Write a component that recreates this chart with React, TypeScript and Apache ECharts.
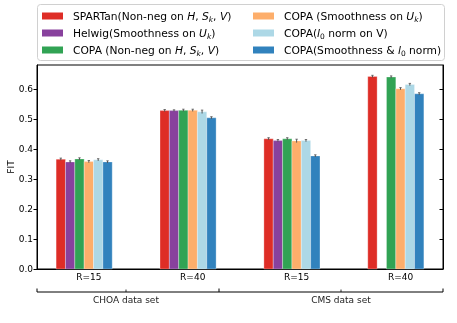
import React, { useEffect, useRef } from "react";
import * as echarts from "echarts";

const groups = ["R=15", "R=40", "R=15", "R=40"];
const datasets = ["CHOA data set", "CMS data set"];
const yTicks = [0, 0.1, 0.2, 0.3, 0.4, 0.5, 0.6];
const yTitle = "FIT";

const seriesNames = [
  "SPARTan(Non-neg on H, Sk, V)",
  "Helwig(Smoothness on Uk)",
  "COPA (Non-neg on H, Sk, V)",
  "COPA (Smoothness on Uk)",
  "COPA(l0 norm on V)",
  "COPA(Smoothness & l0 norm)",
];
const seriesRich = [
  "SPARTan(Non-neg on {i|H}, {i|S}{s|k}, {i|V})",
  "Helwig(Smoothness on {i|U}{s|k})",
  "COPA (Non-neg on {i|H}, {i|S}{s|k}, {i|V})",
  "COPA (Smoothness on {i|U}{s|k})",
  "COPA({i|l}{n|0} norm on V)",
  "COPA(Smoothness & {i|l}{n|0} norm)",
];
const colors = ["#de2d26", "#88419d", "#31a354", "#fdae6b", "#add8e6", "#3182bd"];

const spartan = [0.366, 0.528, 0.434, 0.642];
const helwig = [0.357, 0.528, 0.428, null];
const copaNonneg = [0.367, 0.529, 0.434, 0.640];
const copaSmooth = [0.358, 0.529, 0.427, 0.601];
const copaL0 = [0.364, 0.524, 0.428, 0.615];
const copaBoth = [0.357, 0.504, 0.377, 0.584];

const spartanErr = [0.002, 0.002, 0.002, 0.002];
const helwigErr = [0.002, 0.001, 0.002, null];
const copaNonnegErr = [0.002, 0.002, 0.002, 0.002];
const copaSmoothErr = [0.002, 0.002, 0.004, 0.002];
const copaL0Err = [0.002, 0.004, 0.002, 0.002];
const copaBothErr = [0.002, 0.002, 0.002, 0.002];

const allValues = [spartan, helwig, copaNonneg, copaSmooth, copaL0, copaBoth];
const allErrs = [spartanErr, helwigErr, copaNonnegErr, copaSmoothErr, copaL0Err, copaBothErr];

const BW = 0.09; // bar width in group units
const TICK_OFF = BW / 2;
const FONT = "DejaVu Sans";
const LEGEND_FS = 10.7;

export default function App() {
  const ref = useRef<HTMLDivElement>(null);
  useEffect(() => {
    if (!ref.current) return;
    const chart = echarts.init(ref.current, undefined, { renderer: "svg" });
    const tickPos = groups.map((_, g) => g + TICK_OFF);

    const series = allValues.map((vals, s) => ({
      type: "custom",
      name: seriesNames[s],
      itemStyle: { color: colors[s] },
      data: vals
        .map((v, g) => (v == null ? null : [g, v, allErrs[s][g] as number]))
        .filter((d) => d != null),
      renderItem: (params: any, api: any) => {
        const si = params.seriesIndex;
        const g = api.value(0);
        const v = api.value(1);
        const e = api.value(2);
        const xc = g + (si - 2.5) * BW;
        const p0 = api.coord([xc - BW / 2, v]);
        const p1 = api.coord([xc + BW / 2, 0]);
        const top = api.coord([xc, v + e]);
        const bot = api.coord([xc, v - e]);
        const cx = (p0[0] + p1[0]) / 2;
        return {
          type: "group",
          children: [
            {
              type: "rect",
              shape: { x: p0[0], y: p0[1], width: p1[0] - p0[0], height: p1[1] - p0[1] },
              style: { fill: colors[si], stroke: "rgba(255,255,255,0.5)", lineWidth: 0.6 },
            },
            {
              type: "line",
              shape: { x1: cx, y1: top[1] - 0.5, x2: cx, y2: bot[1] + 0.5 },
              style: { stroke: "#555", lineWidth: 1 },
            },
            {
              type: "line",
              shape: { x1: cx - 1.2, y1: top[1] - 0.5, x2: cx + 1.2, y2: top[1] - 0.5 },
              style: { stroke: "#555", lineWidth: 0.8 },
            },
          ],
        };
      },
    }));

    const rich = {
      i: { fontStyle: "italic", fontSize: LEGEND_FS, fontFamily: FONT, color: "#000", lineHeight: 14 },
      s: { fontStyle: "italic", fontSize: 7.5, fontFamily: FONT, color: "#000", lineHeight: 8, verticalAlign: "bottom" },
      n: { fontSize: 7.5, fontFamily: FONT, color: "#000", lineHeight: 8, verticalAlign: "bottom" },
    };
    const legendCommon = {
      orient: "vertical",
      icon: "rect",
      itemWidth: 21,
      itemHeight: 7,
      itemGap: 3,
      padding: 0,
      top: 9,
      selectedMode: false,
      formatter: (name: string) => seriesRich[seriesNames.indexOf(name)],
      textStyle: {
        fontSize: LEGEND_FS,
        fontFamily: FONT,
        color: "#000",
        lineHeight: 14,
        padding: [0, 0, 0, 5],
        rich,
      },
    };

    const bracketY = 292;
    const bx = [37, 219, 443];
    const labelX = [126, 341];

    chart.setOption({
      animation: false,
      grid: {
        left: 37,
        right: 14,
        top: 65,
        bottom: 54,
        containLabel: false,
        outerBoundsMode: "none",
        show: true,
        borderColor: "#000",
        borderWidth: 1,
        backgroundColor: "transparent",
      },
      legend: [
        { ...legendCommon, left: 42, data: seriesNames.slice(0, 3) },
        { ...legendCommon, left: 253, data: seriesNames.slice(3, 6) },
      ],
      xAxis: {
        type: "value",
        min: -0.454,
        max: 3.454,
        splitLine: { show: false },
        axisLine: { show: true, onZero: false, lineStyle: { color: "#000", width: 1 } },
        axisTick: { show: true, inside: true, length: 3, customValues: tickPos, lineStyle: { color: "#000" } },
        axisLabel: {
          customValues: tickPos,
          formatter: (val: number) => groups[Math.round(val - TICK_OFF)] ?? "",
          fontSize: 9,
          fontFamily: FONT,
          color: "#000",
          margin: 3,
        },
      },
      yAxis: [
        {
          type: "value",
          min: 0,
          max: 0.68,
          position: "left",
          splitLine: { show: false },
          axisLine: { show: true, onZero: false, lineStyle: { color: "#000" } },
          axisTick: { show: true, inside: false, length: 3.5, customValues: yTicks, lineStyle: { color: "#000" } },
          axisLabel: {
            customValues: yTicks,
            formatter: (v: number) => v.toFixed(1),
            fontSize: 9,
            fontFamily: FONT,
            color: "#000",
            margin: 4,
          },
        },
        {
          type: "value",
          min: 0,
          max: 0.68,
          position: "right",
          splitLine: { show: false },
          axisLine: { show: true, onZero: false, lineStyle: { color: "#000" } },
          axisTick: { show: true, inside: true, length: 3.5, customValues: yTicks, lineStyle: { color: "#000" } },
          axisLabel: { show: false },
        },
      ],
      graphic: [
        {
          type: "rect",
          z: -1,
          shape: { x: 37.5, y: 4.5, width: 407, height: 56, r: 3 },
          style: { fill: "#fff", stroke: "#d0d0d0", lineWidth: 1 },
        },
        {
          type: "text",
          x: 11,
          y: 167,
          rotation: Math.PI / 2,
          style: {
            text: yTitle,
            align: "center",
            verticalAlign: "middle",
            fontSize: 9,
            fontFamily: FONT,
            fill: "#000",
          },
        },
        {
          type: "line",
          shape: { x1: bx[0], y1: bracketY, x2: bx[2], y2: bracketY },
          style: { stroke: "#000", lineWidth: 1 },
        },
        ...bx.map((x) => ({
          type: "line",
          shape: { x1: x, y1: bracketY - 3.5, x2: x, y2: bracketY },
          style: { stroke: "#000", lineWidth: 1 },
        })),
        ...labelX.map((x) => ({
          type: "line",
          shape: { x1: x, y1: bracketY - 2.5, x2: x, y2: bracketY },
          style: { stroke: "#000", lineWidth: 0.8 },
        })),
        ...labelX.map((x, i) => ({
          type: "text",
          style: {
            x,
            y: 299.5,
            text: datasets[i],
            align: "center",
            verticalAlign: "middle",
            fontSize: 9,
            fontFamily: FONT,
            fill: "#222",
          },
        })),
      ],
      series,
    });
    return () => chart.dispose();
  }, []);
  return <div ref={ref} style={{ position: "fixed", left: 0, top: 0, width: 457, height: 323 }} />;
}
